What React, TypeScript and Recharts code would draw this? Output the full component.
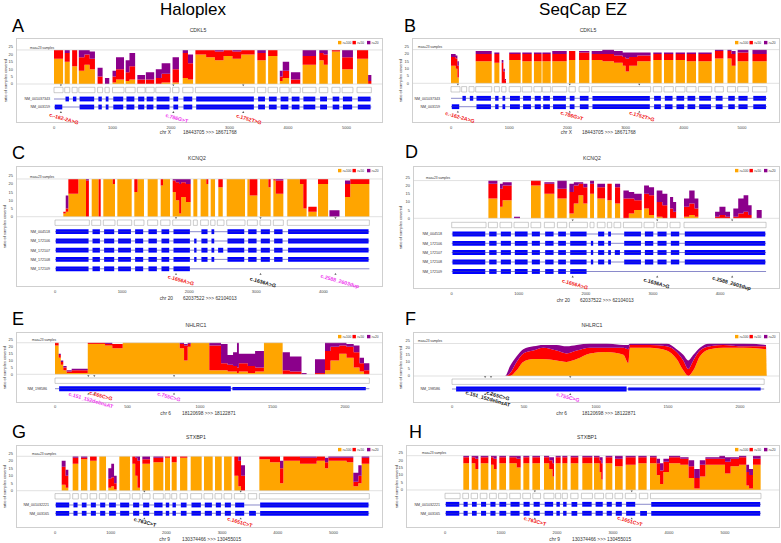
import React from 'react';
import { ComposedChart, Area, XAxis, YAxis, ReferenceArea, ReferenceLine, ReferenceDot } from 'recharts';

const ORANGE = '#FFA500';
const RED = '#FF0000';
const PURPLE = '#8B008B';
const BLUE = '#0000FF';
const LRED = '#F01010';
const MAG = '#EE33EE';
const BLACK = '#111111';
const FONT = '"Liberation Sans", Arial, Helvetica, sans-serif';

// coverage rows: [position, samples >=100x, samples >=50x, samples >=20x]
type Cov = [number, number, number, number];

const CDKL5_HALOPLEX: Cov[] = [
  [0, 17, 23, 23], [155, 0, 0, 0], [183, 15, 21, 23], [269, 0, 0, 0], [310, 12, 23, 23], [396, 0, 0, 0],
  [424, 9, 18, 23], [520, 13, 20, 23], [610, 10, 17, 22], [700, 0, 0, 0], [745, 0, 5, 11], [831, 0, 0, 0],
  [871, 0, 0, 4], [945, 0, 0, 0], [1000, 1, 5, 9], [1060, 3, 10, 18], [1197, 0, 0, 0],
  [1225, 2, 8, 16], [1290, 3, 12, 21], [1387, 0, 0, 0], [1425, 0, 3, 6], [1557, 0, 0, 0],
  [1570, 0, 3, 8], [1713, 0, 0, 0], [1740, 0, 4, 10], [1840, 1, 7, 14], [1988, 0, 0, 0],
  [2027, 1, 10, 18], [2136, 0, 0, 0], [2200, 4, 21, 23], [2290, 3, 14, 20], [2377, 0, 0, 0],
  [2417, 20, 23, 23], [2600, 18, 23, 23], [2750, 16, 22, 23], [2900, 19, 23, 23], [3050, 17, 22, 23],
  [3200, 20, 23, 23], [3430, 0, 0, 0], [3476, 16, 21, 23], [3620, 0, 0, 0], [3660, 19, 23, 23], [3820, 0, 0, 0],
  [3860, 2, 5, 9], [3910, 4, 9, 15], [4020, 0, 0, 0], [4050, 0, 3, 8], [4210, 0, 0, 0],
  [4250, 13, 19, 23], [4480, 0, 0, 0], [4535, 16, 21, 23], [4610, 13, 20, 23], [4680, 0, 0, 0],
  [4750, 22, 23, 23], [4890, 0, 0, 0], [4925, 10, 18, 23], [5110, 0, 0, 0],
  [5180, 17, 23, 23], [5370, 0, 2, 6], [5425, 0, 0, 0],
];

const CDKL5_SEQCAP: Cov[] = [
  [0, 12, 18, 20], [80, 10, 17, 19], [110, 4, 12, 15], [135, 0, 0, 0],
  [424, 15, 20, 22], [700, 0, 0, 0], [745, 14, 20, 21], [831, 0, 0, 0],
  [871, 0, 14, 16], [900, 0, 8, 10], [925, 0, 2, 3], [945, 0, 0, 0],
  [1000, 16, 20, 21], [1197, 0, 0, 0], [1225, 15, 20, 21], [1387, 0, 0, 0],
  [1425, 15, 20, 21], [1557, 0, 0, 0], [1570, 15, 20, 21], [1713, 0, 0, 0],
  [1740, 15, 20, 22], [1988, 0, 0, 0], [2027, 16, 22, 22], [2136, 0, 0, 0],
  [2200, 16, 21, 22], [2377, 0, 0, 0],
  [2417, 16, 20, 22], [2600, 15, 20, 23], [2800, 14, 19, 22], [2950, 12, 18, 21], [3000, 8, 17, 21],
  [3060, 12, 18, 21], [3200, 15, 19, 21], [3430, 0, 0, 0],
  [3476, 16, 20, 21], [3620, 0, 0, 0], [3660, 16, 20, 21], [3820, 0, 0, 0],
  [3860, 16, 20, 21], [4020, 0, 0, 0], [4050, 15, 20, 21], [4210, 0, 0, 0],
  [4250, 15, 20, 21], [4480, 0, 0, 0], [4535, 17, 22, 23], [4680, 0, 0, 0],
  [4750, 17, 22, 23], [4820, 12, 20, 22], [4890, 0, 0, 0], [4925, 15, 21, 23], [5110, 0, 0, 0],
  [5180, 15, 20, 23], [5425, 0, 0, 0],
];

const KCNQ2_HALOPLEX: Cov[] = [
  [124, 2, 3, 3], [160, 3, 5, 13], [199, 14, 23, 23], [348, 23, 23, 23], [462, 0, 22, 23], [505, 0, 0, 0],
  [547, 23, 23, 23], [650, 0, 23, 23], [681, 0, 0, 0], [720, 23, 23, 23], [860, 20, 23, 23], [894, 0, 0, 0],
  [929, 23, 23, 23], [1143, 0, 0, 0], [1182, 15, 23, 23], [1230, 23, 23, 23], [1326, 0, 0, 0],
  [1381, 23, 23, 23], [1530, 0, 0, 0], [1575, 19, 23, 23], [1610, 23, 23, 23], [1714, 0, 0, 0],
  [1754, 15, 22, 23], [1800, 10, 21, 23], [1850, 2, 20, 23], [1880, 12, 21, 23], [1950, 9, 20, 23], [2022, 0, 0, 0],
  [2062, 23, 23, 23], [2121, 0, 0, 0], [2170, 23, 23, 23], [2255, 20, 23, 23], [2285, 0, 0, 0],
  [2320, 23, 23, 23], [2385, 0, 0, 0], [2434, 18, 23, 23], [2500, 0, 0, 0],
  [2559, 23, 23, 23], [2832, 0, 0, 0], [2867, 23, 23, 23], [2900, 13, 23, 23], [3016, 0, 0, 0],
  [3055, 23, 23, 23], [3180, 18, 23, 23], [3214, 0, 0, 0], [3254, 22, 23, 23], [3290, 14, 22, 23], [3403, 0, 0, 0],
  [3462, 23, 23, 23], [3650, 20, 23, 23], [3700, 5, 23, 23], [3750, 0, 0, 0], [3775, 3, 6, 6], [3900, 0, 0, 0],
  [3920, 20, 23, 23], [4070, 0, 0, 0], [4090, 0, 0, 4], [4240, 0, 0, 0],
  [4322, 12, 20, 22], [4400, 20, 23, 23], [4685, 0, 0, 0],
];

const KCNQ2_SEQCAP: Cov[] = [
  [547, 12, 21, 23], [681, 0, 0, 0], [720, 7, 18, 21], [760, 11, 20, 22], [894, 0, 0, 0],
  [929, 0, 0, 1], [1018, 0, 0, 0], [1182, 20, 23, 23], [1326, 0, 0, 0], [1381, 15, 21, 22], [1530, 0, 0, 0],
  [1575, 12, 18, 23], [1714, 0, 0, 0],
  [1754, 3, 16, 21], [1820, 9, 20, 22], [1890, 14, 21, 22], [1960, 9, 19, 21], [2022, 0, 0, 0],
  [2062, 15, 21, 23], [2121, 0, 0, 0], [2170, 12, 19, 21], [2285, 0, 0, 0], [2320, 11, 21, 21], [2385, 0, 0, 0],
  [2434, 9, 19, 21], [2510, 0, 0, 0], [2559, 0, 12, 17], [2640, 3, 12, 16], [2720, 5, 11, 15], [2832, 0, 0, 0],
  [2867, 6, 15, 20], [2940, 2, 14, 19], [3016, 0, 0, 0], [3055, 1, 10, 17], [3140, 0, 8, 15], [3214, 0, 0, 0],
  [3254, 0, 6, 13], [3300, 0, 4, 10], [3345, 0, 0, 0],
  [3462, 1, 7, 12], [3540, 2, 9, 17], [3620, 1, 6, 12], [3676, 0, 0, 0],
  [3925, 0, 1, 4], [3990, 0, 2, 7], [4080, 0, 1, 4], [4148, 0, 0, 0],
  [4197, 0, 1, 6], [4270, 0, 3, 12], [4350, 0, 4, 14], [4420, 0, 2, 8], [4470, 0, 0, 0],
  [4545, 0, 0, 5], [4620, 0, 0, 0],
];

const NHLRC1_HALOPLEX: Cov[] = [
  [0, 21, 23, 23], [25, 12, 14, 15], [40, 7, 9, 10], [57, 3, 5, 6], [80, 1, 2, 3], [115, 1, 3, 4],
  [226, 22, 23, 23], [345, 21, 22, 23], [395, 19, 22, 22], [467, 23, 23, 23],
  [860, 19, 22, 23], [890, 10, 21, 22], [915, 20, 22, 23], [936, 23, 23, 23],
  [1064, 3, 21, 23], [1145, 3, 8, 22], [1190, 2, 7, 14], [1228, 2, 6, 16], [1255, 1, 5, 23], [1268, 2, 8, 15],
  [1330, 1, 6, 15], [1380, 2, 5, 17], [1441, 23, 23, 23], [1570, 0, 3, 16], [1620, 0, 2, 13],
  [1700, 0, 0, 1], [1735, 0, 0, 0], [1793, 0, 1, 11], [1862, 3, 17, 23], [1900, 10, 20, 23],
  [1960, 15, 21, 23], [2010, 12, 20, 22], [2060, 5, 16, 21], [2100, 2, 8, 12], [2131, 0, 3, 8], [2168, 0, 0, 0],
];

const NHLRC1_SEQCAP: Cov[] = [
  [0, 0, 0, 0], [368, 0, 0, 0], [403, 0, 2, 7], [449, 4, 10, 14], [495, 10, 16, 19], [565, 12, 18, 21],
  [634, 12, 20, 22], [727, 11, 18, 22], [796, 10, 16, 21], [866, 12, 18, 22], [958, 16, 20, 23],
  [1074, 17, 20, 23], [1190, 15, 20, 22], [1225, 9, 19, 22], [1236, 20, 22, 23], [1375, 20, 22, 23],
  [1491, 18, 21, 23], [1560, 12, 17, 19], [1606, 4, 11, 15], [1641, 0, 5, 11], [1676, 4, 11, 15],
  [1722, 14, 18, 20], [1792, 19, 21, 23], [1884, 20, 22, 23], [2023, 20, 21, 23], [2180, 19, 21, 22], [2186, 0, 0, 0],
];

const STXBP1_HALOPLEX: Cov[] = [
  [120, 4, 16, 20], [190, 2, 10, 14], [239, 0, 0, 0], [317, 18, 22, 23], [419, 0, 0, 0],
  [467, 21, 22, 23], [580, 0, 0, 0], [629, 20, 23, 23], [748, 0, 0, 0], [796, 23, 23, 23], [916, 0, 0, 0],
  [957, 2, 8, 15], [1010, 3, 9, 18], [1060, 1, 5, 10], [1107, 0, 0, 0], [1155, 23, 23, 23], [1346, 0, 0, 0],
  [1388, 18, 23, 23], [1440, 10, 22, 23], [1480, 2, 20, 23], [1526, 0, 0, 0], [1568, 18, 21, 23], [1706, 0, 0, 0],
  [1766, 19, 22, 23], [1945, 0, 0, 0], [1975, 22, 23, 23], [2065, 0, 0, 0], [2095, 19, 23, 23], [2185, 0, 0, 0],
  [2245, 22, 23, 23], [2376, 0, 0, 0], [2436, 23, 23, 23], [2633, 0, 0, 0], [2675, 23, 23, 23], [2831, 0, 0, 0],
  [2873, 23, 23, 23], [2993, 0, 0, 0], [3035, 23, 23, 23], [3172, 0, 0, 0],
  [3220, 10, 23, 23], [3290, 3, 20, 23], [3340, 0, 10, 17], [3411, 0, 0, 0],
  [3669, 21, 23, 23], [3860, 19, 23, 23], [4040, 5, 15, 20], [4100, 20, 23, 23], [4399, 18, 22, 23],
  [4698, 20, 23, 23], [4847, 15, 19, 22], [4907, 20, 22, 23], [5236, 19, 22, 23], [5356, 3, 6, 12],
  [5446, 5, 10, 17], [5506, 18, 22, 23], [5643, 0, 0, 0],
];

const STXBP1_SEQCAP: Cov[] = [
  [327, 18, 22, 23], [429, 0, 0, 0], [476, 18, 22, 23], [540, 14, 21, 23], [595, 0, 0, 0],
  [637, 18, 22, 23], [774, 0, 0, 0], [821, 17, 22, 23], [870, 14, 21, 23], [923, 0, 0, 0],
  [970, 18, 22, 23], [1089, 0, 0, 0], [1149, 18, 22, 23], [1280, 15, 21, 23], [1351, 0, 0, 0],
  [1399, 18, 22, 23], [1506, 0, 0, 0], [1560, 18, 22, 23], [1696, 0, 0, 0],
  [1768, 18, 22, 23], [1860, 14, 20, 22], [1920, 9, 18, 22], [1946, 0, 0, 0],
  [1976, 18, 22, 23], [2065, 0, 0, 0], [2095, 18, 22, 23], [2185, 0, 0, 0], [2244, 18, 22, 23], [2381, 0, 0, 0],
  [2452, 18, 22, 23], [2631, 0, 0, 0], [2661, 18, 22, 23], [2760, 12, 20, 22], [2790, 7, 18, 22], [2815, 0, 0, 0],
  [2869, 18, 22, 23], [2988, 0, 0, 0], [3036, 16, 21, 23], [3173, 0, 0, 0], [3226, 17, 22, 23], [3405, 0, 0, 0],
  [3452, 18, 22, 23], [3601, 0, 0, 0],
  [3661, 18, 22, 23], [3780, 10, 18, 21], [3840, 4, 13, 18], [3900, 12, 19, 21], [4000, 18, 22, 23],
  [4200, 17, 21, 22], [4350, 8, 16, 20], [4450, 1, 8, 14], [4550, 9, 17, 20], [4650, 17, 21, 22],
  [4900, 17, 21, 23], [5000, 11, 19, 22], [5100, 16, 21, 22], [5250, 17, 22, 23], [5380, 3, 12, 17],
  [5430, 1, 10, 14], [5500, 17, 21, 23], [5637, 0, 0, 0],
];

// exon boxes [start, end]
const CDKL5_EXONS: [number, number][] = [
  [0, 155], [183, 269], [310, 396], [424, 700], [745, 831], [871, 945], [1000, 1197], [1225, 1387],
  [1425, 1557], [1570, 1713], [1740, 1988], [2027, 2136], [2200, 2377], [2417, 3430], [3476, 3620],
  [3660, 3820], [3860, 4020], [4050, 4210], [4250, 4480], [4535, 4680], [4750, 4890], [4925, 5110], [5180, 5425],
];
const KCNQ2_EXONS: [number, number][] = [
  [0, 512], [547, 681], [720, 894], [929, 1143], [1182, 1326], [1381, 1530], [1575, 1714], [1754, 2022],
  [2062, 2121], [2170, 2285], [2320, 2385], [2419, 2519], [2559, 2832], [2867, 3016], [3055, 3214],
  [3254, 3403], [3462, 4685],
];
const NHLRC1_EXONS: [number, number][] = [[0, 2168]];
const STXBP1_EXONS: [number, number][] = [
  [0, 269], [317, 419], [467, 580], [629, 748], [796, 916], [957, 1107], [1155, 1346], [1388, 1526],
  [1568, 1706], [1766, 1945], [1975, 2065], [2095, 2185], [2245, 2376], [2436, 2633], [2675, 2831],
  [2873, 2993], [3035, 3172], [3220, 3411], [3471, 3621], [3669, 5643],
];

const CDKL5_TX = ['NM_001037343', 'NM_003159'];
const CDKL5_TX_EXONS = [
  [1, 2, 3, 4, 5, 6, 7, 8, 9, 10, 11, 12, 13, 14, 15, 16, 17, 18, 19, 20, 21, 22],
  [0, 3, 4, 5, 6, 7, 8, 9, 10, 11, 12, 13, 14, 15, 16, 17, 18, 19, 20, 21, 22],
];
const KCNQ2_TX = ['NM_004518', 'NM_172106', 'NM_172107', 'NM_172108', 'NM_172109'];
const KCNQ2_TX_EXONS = [
  [0, 1, 2, 3, 4, 5, 6, 7, 9, 10, 12, 13, 14, 15, 16],
  [0, 1, 2, 3, 4, 5, 6, 7, 8, 9, 10, 12, 13, 14, 15, 16],
  [0, 1, 2, 3, 4, 5, 6, 7, 8, 9, 10, 11, 12, 13, 14, 15, 16],
  [0, 1, 2, 3, 4, 5, 6, 7, 8, 9, 10, 12, 13, 14, 15, 16],
  [0, 1, 2, 3, 4, 5, 6, 7],
];
const NHLRC1_TX = ['NM_198586'];
const NHLRC1_CDS: [number, number][] = [[23, 1218]];
const NHLRC1_UTR: [number, number][] = [[1218, 2149]];
const STXBP1_TX = ['NM_001032221', 'NM_003165'];
const STXBP1_TX_EXONS = [
  [0, 1, 2, 3, 4, 5, 6, 7, 8, 9, 10, 11, 12, 13, 14, 15, 16, 17, 19],
  [0, 1, 2, 3, 4, 5, 6, 7, 8, 9, 10, 11, 12, 13, 14, 15, 16, 17, 18, 19],
];

const CDKL5_MUTS = ['c.-162-2A>G', 'c.786G>T', 'c.1752T>G'];
const CDKL5_SITES = [118, 2040, 3235];
const KCNQ2_MUTS = ['c.1656A>G', 'c.1636A>G', 'c.2588_2603dup'];
const KCNQ2_SITES = [1803, 3063, 4180];
const NHLRC1_MUTS = ['c.151_152delinsAT', 'c.265C>G', 'c.755C>G'];
const NHLRC1_SITES = [230, 271, 821];
const STXBP1_MUTS = ['c.763C>T', 'c.1651C>T'];
const STXBP1_SITES = [1604, 3334];

const Y_TICKS = [0, 5, 10, 15, 20, 25];
const TICKS_CDKL5 = [0, 1000, 2000, 3000, 4000, 5000];
const TICKS_KCNQ2 = [0, 1000, 2000, 3000, 4000];
const TICKS_NHLRC1 = [0, 500, 1000, 1500, 2000];
const TICKS_STXBP1 = [0, 1000, 2000, 3000, 4000, 5000];

const LEGEND = [
  { label: '>=100', color: ORANGE },
  { label: '>=50', color: RED },
  { label: '>=20', color: PURPLE },
];

type Part = [number, number, number];
const fromExons = (exons: [number, number][], idx: number[]): Part[] => idx.map((i) => [exons[i][0], exons[i][1], 2.4]);

const PANELS = [
  {
    letter: 'A', lx: 12, ly: 32, title: 'CDKL5', tx: 198, ty: 32,
    l: 16, t: 38, r: 383, b: 123, x0: 54, ppk: 58.5, base: 84, top25: 47,
    ticks: TICKS_CDKL5, tickY: 127.5, axisY: 134, chrom: 'chr X', range: '18443705 >>> 18671768', chrEnd: 171, numX: 183,
    cov: CDKL5_HALOPLEX, curve: 'stepAfter', exons: CDKL5_EXONS, line: [0, 5425],
    txNames: CDKL5_TX, txParts: CDKL5_TX_EXONS.map((ix) => fromExons(CDKL5_EXONS, ix)),
    boxY: 90, txY: [99, 107], txLabelX: 50, maxX: 30, yTitleX: 5,
    muts: CDKL5_MUTS, mutPos: [171, 2100, 3333], mutY: [118.5, 118, 119], mutColor: [LRED, MAG, LRED], sites: CDKL5_SITES,
  },
  {
    letter: 'B', lx: 404, ly: 32, title: 'CDKL5', tx: 588, ty: 32,
    l: 412, t: 38, r: 780, b: 123, x0: 451, ppk: 58.2, base: 83.3, top25: 46.7,
    ticks: TICKS_CDKL5, tickY: 128, axisY: 134, chrom: 'chr X', range: '18443705 >>> 18671768', chrEnd: 572, numX: 582,
    cov: CDKL5_SEQCAP, curve: 'stepAfter', exons: CDKL5_EXONS, line: [0, 5425],
    txNames: CDKL5_TX, txParts: CDKL5_TX_EXONS.map((ix) => fromExons(CDKL5_EXONS, ix)),
    boxY: 89.3, txY: [98.3, 106.7], txLabelX: 440, maxX: 418, yTitleX: 400,
    muts: CDKL5_MUTS, mutPos: [155, 2079, 3282], mutY: [117, 115.5, 116], mutColor: [LRED, LRED, LRED], sites: CDKL5_SITES,
  },
  {
    letter: 'C', lx: 12, ly: 159, title: 'KCNQ2', tx: 197, ty: 160,
    l: 16, t: 166, r: 383, b: 287, x0: 55, ppk: 67.1, base: 216.7, top25: 175.7,
    ticks: TICKS_KCNQ2, tickY: 292, axisY: 300, chrom: 'chr 20', range: '62037522 >>> 62104013', chrEnd: 173, numX: 183,
    cov: KCNQ2_HALOPLEX, curve: 'stepAfter', exons: KCNQ2_EXONS, line: [0, 4685],
    txNames: KCNQ2_TX, txParts: KCNQ2_TX_EXONS.map((ix) => fromExons(KCNQ2_EXONS, ix)),
    boxY: 222.7, txY: [231.7, 241, 250.2, 259.4, 268.8], txLabelX: 50, maxX: 30, yTitleX: 4,
    muts: KCNQ2_MUTS, mutPos: [1878, 3100, 4247], mutY: [280, 282, 281], mutColor: [LRED, BLACK, MAG], sites: KCNQ2_SITES,
  },
  {
    letter: 'D', lx: 405, ly: 158, title: 'KCNQ2', tx: 592, ty: 160,
    l: 413, t: 166, r: 780, b: 289, x0: 451.7, ppk: 67.1, base: 218.3, top25: 177.3,
    ticks: TICKS_KCNQ2, tickY: 294, axisY: 302, chrom: 'chr 20', range: '62037522 >>> 62104013', chrEnd: 570, numX: 580,
    cov: KCNQ2_SEQCAP, curve: 'stepAfter', exons: KCNQ2_EXONS, line: [0, 4685],
    txNames: KCNQ2_TX, txParts: KCNQ2_TX_EXONS.map((ix) => fromExons(KCNQ2_EXONS, ix)),
    boxY: 225, txY: [234, 243.3, 252.5, 262, 271.5], txLabelX: 442, maxX: 426, yTitleX: 400,
    muts: KCNQ2_MUTS, mutPos: [1838, 3055, 4173], mutY: [284, 283, 283], mutColor: [LRED, BLACK, BLACK], sites: KCNQ2_SITES,
  },
  {
    letter: 'E', lx: 12, ly: 325, title: 'NHLRC1', tx: 196, ty: 327,
    l: 16, t: 332, r: 383, b: 403, x0: 55, ppk: 145, base: 374.3, top25: 340,
    ticks: TICKS_NHLRC1, tickY: 407, axisY: 415, chrom: 'chr 6', range: '18120698 >>> 18122871', chrEnd: 171, numX: 182,
    cov: NHLRC1_HALOPLEX, curve: 'stepAfter', exons: NHLRC1_EXONS, line: [0, 2168],
    txNames: NHLRC1_TX, txParts: [[...NHLRC1_CDS.map(([s, e]) => [s, e, 2.5]), ...NHLRC1_UTR.map(([s, e]) => [s, e, 1.6])]],
    boxY: 380.7, txY: [388.7], txLabelX: 47, maxX: 32, yTitleX: 4,
    muts: NHLRC1_MUTS, mutPos: [248, 317, 786], mutY: [400, 395.5, 396.5], mutColor: [MAG, LRED, MAG], sites: NHLRC1_SITES,
  },
  {
    letter: 'F', lx: 405, ly: 325, title: 'NHLRC1', tx: 592, ty: 327,
    l: 413, t: 332, r: 780, b: 403, x0: 452, ppk: 144, base: 376, top25: 340.7,
    ticks: TICKS_NHLRC1, tickY: 407, axisY: 415, chrom: 'chr 6', range: '18120698 >>> 18122871', chrEnd: 567, numX: 582,
    cov: NHLRC1_SEQCAP, curve: 'monotone', exons: NHLRC1_EXONS, line: [0, 2168],
    txNames: NHLRC1_TX, txParts: [[...NHLRC1_CDS.map(([s, e]) => [s, e, 2.5]), ...NHLRC1_UTR.map(([s, e]) => [s, e, 1.6])]],
    boxY: 381.7, txY: [389], txLabelX: 440, maxX: 418, yTitleX: 400,
    muts: NHLRC1_MUTS, mutPos: [250, 319, 805], mutY: [398.5, 395.5, 397], mutColor: [BLACK, BLACK, MAG], sites: NHLRC1_SITES,
  },
  {
    letter: 'G', lx: 12, ly: 438, title: 'STXBP1', tx: 196, ty: 439,
    l: 16, t: 445, r: 383, b: 528, x0: 55, ppk: 55.7, base: 490.7, top25: 453.3,
    ticks: TICKS_STXBP1, tickY: 532.7, axisY: 541, chrom: 'chr 9', range: '130374466 >>> 130455015', chrEnd: 170, numX: 182,
    cov: STXBP1_HALOPLEX, curve: 'stepAfter', exons: STXBP1_EXONS, line: [0, 5643],
    txNames: STXBP1_TX, txParts: STXBP1_TX_EXONS.map((ix) => fromExons(STXBP1_EXONS, ix)),
    boxY: 496.3, txY: [505, 513.3], txLabelX: 49, maxX: 32, yTitleX: 4,
    muts: STXBP1_MUTS, mutPos: [1616, 3321], mutY: [522, 522], mutColor: [BLACK, LRED], sites: STXBP1_SITES,
  },
  {
    letter: 'H', lx: 409, ly: 438, title: 'STXBP1', tx: 587, ty: 439,
    l: 406, t: 445, r: 780, b: 528, x0: 445, ppk: 56, base: 490, top25: 452.7,
    ticks: TICKS_STXBP1, tickY: 532.7, axisY: 541, chrom: 'chr 9', range: '130374466 >>> 130455015', chrEnd: 560, numX: 572,
    cov: STXBP1_SEQCAP, curve: 'stepAfter', exons: STXBP1_EXONS, line: [0, 5643],
    txNames: STXBP1_TX, txParts: STXBP1_TX_EXONS.map((ix) => fromExons(STXBP1_EXONS, ix)),
    boxY: 496, txY: [504.3, 513.3], txLabelX: 440, maxX: 422, yTitleX: 396,
    muts: STXBP1_MUTS, mutPos: [1607, 3304], mutY: [521, 521], mutColor: [LRED, LRED], sites: STXBP1_SITES,
  },
];

type P = (typeof PANELS)[number];

function CoveragePanel({ p }: { p: P }) {
  const k = p.ppk / 1000;
  const xmin = (p.l - p.x0) / k;
  const xmax = (p.r - p.x0) / k;
  const ppu = (p.base - p.top25) / 25;
  const yAt = (py: number) => (p.base - py) / ppu;
  const data = p.cov.map(([pos, a, b, c]) => ({ pos, o: a, r: b - a, u: c - b }));
  const axisH = p.tickY + 5 - p.b;
  const W = p.r - p.l + 16;
  const H = p.b - p.t + axisH;
  const shrink = 0.8 / k;
  const lastTx = p.txY[p.txY.length - 1];
  const tick = { fontSize: 4, fill: '#444', fontFamily: FONT };

  return (
    <>
      <div style={{ position: 'absolute', left: p.l, top: p.t, width: p.r - p.l, height: p.b - p.t, border: '1px solid #cfcfcf', boxSizing: 'border-box' }} />
      <div style={{ position: 'absolute', left: p.l - 16, top: p.t }}>
        <ComposedChart width={W} height={H} data={data} margin={{ top: 0, right: 0, bottom: 0, left: 0 }}>
          <XAxis type="number" dataKey="pos" domain={[xmin, xmax]} allowDataOverflow ticks={p.ticks} interval={0}
            height={axisH} axisLine={false} tickLine={false} tickSize={0} tickMargin={p.tickY - p.b - 1.4} tick={tick} />
          <YAxis type="number" domain={[yAt(p.b), yAt(p.t)]} allowDataOverflow ticks={Y_TICKS} interval={0}
            width={16} axisLine={false} tickLine={false} tickSize={0} tickMargin={3} tick={tick} />
          <ReferenceLine y={0} stroke="#cccccc" strokeWidth={0.6} />
          <ReferenceLine y={23} stroke="#cccccc" strokeWidth={0.6} />
          <Area type={p.curve as any} dataKey="o" stackId="cov" fill={ORANGE} fillOpacity={1} stroke="none" isAnimationActive={false} dot={false} activeDot={false} />
          <Area type={p.curve as any} dataKey="r" stackId="cov" fill={RED} fillOpacity={1} stroke="none" isAnimationActive={false} dot={false} activeDot={false} />
          <Area type={p.curve as any} dataKey="u" stackId="cov" fill={PURPLE} fillOpacity={1} stroke="none" isAnimationActive={false} dot={false} activeDot={false} />

          {p.exons.map(([s, e], i) => (
            <ReferenceArea key={'box' + i} x1={s} x2={e} y1={yAt(p.boxY + 2.7)} y2={yAt(p.boxY - 2.7)}
              fill="#ffffff" fillOpacity={1} stroke="#9a9a9a" strokeWidth={0.5} ifOverflow="visible" />
          ))}
          {p.txY.map((ty, ti) => (
            <ReferenceLine key={'line' + ti} segment={[{ x: p.line[0], y: yAt(ty) }, { x: p.line[1], y: yAt(ty) }]}
              stroke="#3a3aa8" strokeWidth={0.6} ifOverflow="visible" />
          ))}
          {p.txY.map((ty, ti) =>
            (p.txParts[ti] as Part[]).map(([s, e, h], i) => {
              const sh = e - s > 3 * shrink ? shrink : 0;
              return (
                <ReferenceArea key={'ex' + ti + '-' + i} x1={s + sh} x2={e - sh} y1={yAt(ty + h)} y2={yAt(ty - h)}
                  fill={BLUE} fillOpacity={1} stroke="none" ifOverflow="visible" />
              );
            })
          )}
          {p.sites.map((s, i) => (
            <ReferenceDot key={'mt' + i} x={s} y={yAt(p.boxY - 4.6)} r={1} ifOverflow="visible"
              shape={(d: any) => <path d={`M${d.cx - 1.1},${d.cy - 0.9}L${d.cx + 1.1},${d.cy - 0.9}L${d.cx},${d.cy + 0.9}Z`} fill="#555" />} />
          ))}
          {p.sites.map((s, i) => (
            <ReferenceDot key={'mb' + i} x={s} y={yAt(lastTx + 5)} r={1} ifOverflow="visible"
              shape={(d: any) => <path d={`M${d.cx - 1.1},${d.cy + 0.9}L${d.cx + 1.1},${d.cy + 0.9}L${d.cx},${d.cy - 0.9}Z`} fill="#555" />} />
          ))}
          {p.muts.map((m, i) => (
            <ReferenceDot key={'lab' + i} x={p.mutPos[i]} y={yAt(p.mutY[i])} r={1} ifOverflow="visible"
              shape={(d: any) => (
                <text x={d.cx} y={d.cy} transform={`rotate(16 ${d.cx} ${d.cy})`} textAnchor="middle" dominantBaseline="central"
                  fontSize={5.2} fontWeight="bold" fill={p.mutColor[i]} fontFamily={FONT}>{m}</text>
              )} />
          ))}
        </ComposedChart>
      </div>
    </>
  );
}

function PanelText({ p }: { p: P }) {
  const lx = p.r - 45;
  const ly = p.t + 4.6;
  return (
    <g fontFamily={FONT}>
      <text x={p.lx} y={p.ly} fontSize={18} fill="#000">{p.letter}</text>
      <text x={p.tx} y={p.ty} fontSize={5.2} fill="#333" textAnchor="middle">{p.title}</text>
      {LEGEND.map((it, i) => (
        <g key={it.label}>
          <rect x={lx + i * 14.5} y={ly - 1.7} width={3.4} height={3.4} fill={it.color} />
          <text x={lx + i * 14.5 + 4.2} y={ly + 1.2} fontSize={3.2} fill="#333">{it.label}</text>
        </g>
      ))}
      <text x={p.maxX} y={p.base - (p.base - p.top25) * 23 / 25 - 1.4} fontSize={3.2} fill="#333">max=23 samples</text>
      <text x={p.yTitleX} y={(p.t + p.b) / 2} fontSize={4} fill="#333" textAnchor="middle" dominantBaseline="central"
        transform={`rotate(-90 ${p.yTitleX} ${(p.t + p.b) / 2})`}>ratio of samples covered</text>
      {p.txNames.map((n, i) => (
        <text key={n} x={p.txLabelX} y={p.txY[i] + 1.3} fontSize={3.6} fill="#333" textAnchor="end">{n}</text>
      ))}
      <text x={p.chrEnd} y={p.axisY} fontSize={4.8} fill="#333" textAnchor="end">{p.chrom}</text>
      <text x={p.numX} y={p.axisY} fontSize={4.8} fill="#333">{p.range}</text>
    </g>
  );
}

export default function App() {
  return (
    <div style={{ position: 'absolute', left: 0, top: 0, width: 781, height: 543, background: '#fff', overflow: 'hidden' }}>
      {PANELS.map((p) => <CoveragePanel key={p.letter} p={p} />)}
      <svg width={781} height={543} style={{ position: 'absolute', left: 0, top: 0, pointerEvents: 'none' }}>
        <text x={193} y={15} fontSize={17} textAnchor="middle" fontFamily={FONT} fill="#000">Haloplex</text>
        <text x={583} y={15} fontSize={17} textAnchor="middle" fontFamily={FONT} fill="#000">SeqCap EZ</text>
        {PANELS.map((p) => <PanelText key={p.letter} p={p} />)}
      </svg>
    </div>
  );
}
